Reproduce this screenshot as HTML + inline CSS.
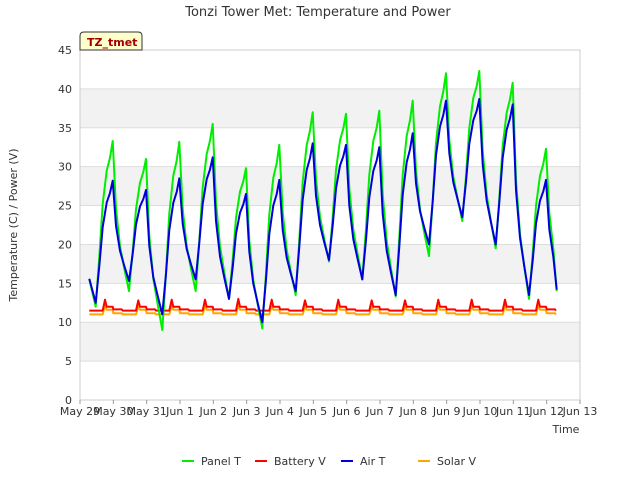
<!DOCTYPE html>
<html><head><meta charset="utf-8"><style>
body{margin:0;background:#fff;font-family:"Liberation Sans","DejaVu Sans",sans-serif}
svg text{font-family:"DejaVu Sans","Liberation Sans",sans-serif}
</style></head><body>
<svg id="c" width="640" height="480" xmlns="http://www.w3.org/2000/svg">
<text x="318" y="16" text-anchor="middle" font-size="13" fill="#333">Tonzi Tower Met: Temperature and Power</text>
<g id="plot"></g>
<text x="566" y="433" font-size="11" fill="#333" text-anchor="middle">Time</text>
<text transform="translate(17,225) rotate(-90)" font-size="11" fill="#333" text-anchor="middle">Temperature (C) / Power (V)</text>
<g><path d="M80,50 L80,36 Q80,32 84,32 L138,32 Q142,32 142,36 L142,50 Z" fill="#ffffcc" stroke="#333"/><text x="87" y="46" font-size="11" font-weight="bold" fill="#a00000">TZ_tmet</text></g>
<g id="legend"></g>
</svg>
<script>
const xLabels=["May 29","May 30","May 31","Jun 1","Jun 2","Jun 3","Jun 4","Jun 5","Jun 6","Jun 7","Jun 8","Jun 9","Jun 10","Jun 11","Jun 12","Jun 13"];
const yTicks=[0,5,10,15,20,25,30,35,40,45];
const panelMin=[12,14,9,14,13,9.2,13.5,17.8,15.5,13.3,18.5,23,19.5,13];
const panelMax=[33.3,31,33.2,35.5,29.8,32.8,37,36.8,37.2,38.5,42,42.3,40.8,32.3];
const airMin=[12.5,15.3,11,15.5,13,10,14,18,15.5,13.5,20,23.5,20,13.5];
const airMax=[28.2,27,28.5,31.2,26.5,28.3,33,32.8,32.5,34.3,38.5,38.7,38,28.3];
const battPeak=[12.9,12.8,12.9,12.9,13,12.9,12.8,12.9,12.8,12.8,12.9,12.9,12.9,12.9];
const solarPeak=[12.1,12,12.1,12.1,12.2,12.1,12,12.1,12,12,12.1,12.1,12.1,12.1];
const startDay=0.28,startPanel=15.5,startAir=15.6,endDay=14.3,endPanel=14,endAir=14.2;
const X=d=>80+d*500/15, Y=v=>400-v*350/45;
const NS="http://www.w3.org/2000/svg";
const plot=document.getElementById('plot');
function mk(tag,at,parent){const e=document.createElementNS(NS,tag);for(const k in at)e.setAttribute(k,at[k]);(parent||plot).appendChild(e);return e;}
mk('rect',{x:80,y:50,width:500,height:350,fill:'#fff'});
for(let i=0;i<yTicks.length-1;i++){if(i%2==1){const r=mk('rect',{x:80,y:Y(yTicks[i+1]),width:500,height:Y(yTicks[i])-Y(yTicks[i+1]),fill:'#f2f2f2'});

}}
yTicks.forEach(v=>{mk('line',{x1:80,x2:580,y1:Y(v),y2:Y(v),stroke:'#ddd'});
const t=mk('text',{x:72,y:Y(v)+4,'text-anchor':'end','font-size':11,fill:'#333'});t.textContent=v;

});
mk('rect',{x:80,y:50,width:500,height:350,fill:'none',stroke:'#ccc'});
xLabels.forEach((l,i)=>{mk('line',{x1:X(i),x2:X(i),y1:400,y2:404,stroke:'#999'});
const t=mk('text',{x:X(i),y:415,'text-anchor':'middle','font-size':11,fill:'#333'});t.textContent=l;

});
function tempPts(mins,maxs,s,e){const p=[[startDay,s]];
for(let d=0;d<maxs.length;d++){const mn=mins[d],mx=maxs[d];
p.push([d+0.47,mn]);p.push([d+0.58,mn+(mx-mn)*0.3]);p.push([d+0.68,mn+(mx-mn)*0.62]);p.push([d+0.8,mn+(mx-mn)*0.82]);p.push([d+0.9,mn+(mx-mn)*0.9]);p.push([d+0.98,mx]);
const nx=d+1<mins.length?mins[d+1]:e;
p.push([d+1.08,nx+(mx-nx)*0.55]);p.push([d+1.2,nx+(mx-nx)*0.3]);p.push([d+1.33,nx+(mx-nx)*0.15]);}
p.push([endDay,e]);return p.filter(q=>q[0]<=endDay);}
function voltPts(peaks,base,plat){const p=[[startDay,base]];
for(let d=0;d<peaks.length;d++){p.push([d+0.68,base]);p.push([d+0.75,peaks[d]]);p.push([d+0.8,plat]);p.push([d+0.98,plat]);p.push([d+1.0,base+0.15]);p.push([d+1.25,base+0.15]);p.push([d+1.28,base]);}
return p.filter(q=>q[0]<=endDay);}
function line(pts,col,name){const e=mk('polyline',{points:pts.map(p=>X(p[0]).toFixed(1)+','+Y(p[1]).toFixed(1)).join(' '),fill:'none',stroke:col,'stroke-width':2,'stroke-linejoin':'round'});

}
line(voltPts(solarPeak,11,11.6),'#ffa500','solar-v-line');
line(voltPts(battPeak,11.5,12),'#ff0000','battery-v-line');
line(tempPts(panelMin,panelMax,startPanel,endPanel),'#00ee00','panel-t-line');
line(tempPts(airMin,airMax,startAir,endAir),'#0000dd','air-t-line');
const leg=document.getElementById('legend');
[["Panel T","#00ee00",182],["Battery V","#ff0000",255],["Air T","#0000dd",341],["Solar V","#ffa500",418]].forEach(a=>{
const g=mk('g',{},leg);


mk('line',{x1:a[2],x2:a[2]+12,y1:461,y2:461,stroke:a[1],'stroke-width':2},g);
const t=mk('text',{x:a[2]+19,y:465,'font-size':11,fill:'#333'},g);t.textContent=a[0];});
</script>
</body></html>
